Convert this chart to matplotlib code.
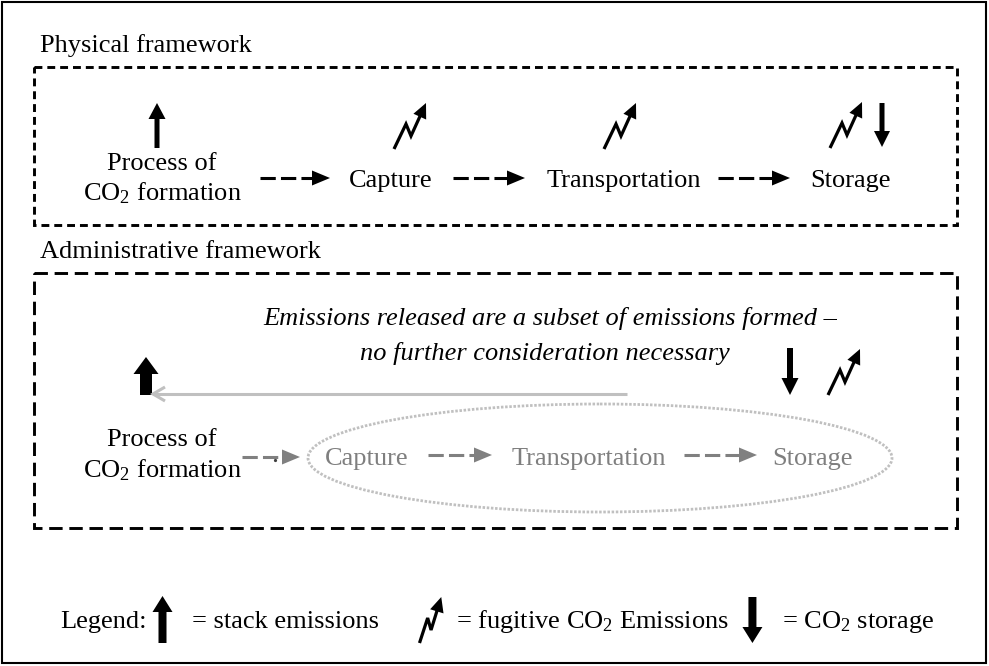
import matplotlib
matplotlib.use('Agg')
import matplotlib.pyplot as plt
from matplotlib.patches import Polygon, Rectangle, Ellipse
import numpy as np

plt.rcParams['font.family'] = ['Liberation Serif', 'DejaVu Serif']
plt.rcParams['mathtext.fontset'] = 'custom'
plt.rcParams['mathtext.rm'] = 'Liberation Serif'
plt.rcParams['mathtext.it'] = 'Liberation Serif:italic'

# ---- content ----
section_titles = ['Physical framework', 'Administrative framework']
source_label = ['Process of', r'CO$_\mathrm{2}$ formation']
chain_steps = ['Capture', 'Transportation', 'Storage']
note_lines = ['Emissions released are a subset of emissions formed \u2013',
              'no further consideration necessary']
legend_items = ['Legend:', '= stack emissions',
                r'= fugitive CO$_\mathrm{2}$ Emissions', r'= CO$_\mathrm{2}$ storage']

W, H = 989, 666
fig = plt.figure(figsize=(W / 100, H / 100), dpi=100)
ax = fig.add_axes([0, 0, 1, 1])
ax.set_xlim(0, W)
ax.set_ylim(H, 0)
ax.axis('off')
FS = 19
GRAY_TXT = '#7f7f7f'
LIGHT = '#c0c0c0'


def block_arrow(x, y_tail, y_tip, shaft, head, hlen, color='black'):
    d = 1 if y_tip > y_tail else -1
    yb = y_tip - d * hlen
    pts = [(x - shaft / 2, y_tail), (x - shaft / 2, yb), (x - head / 2, yb), (x, y_tip),
           (x + head / 2, yb), (x + shaft / 2, yb), (x + shaft / 2, y_tail)]
    ax.add_patch(Polygon(pts, closed=True, fc=color, ec='none'))


def dashed_arrow(x0, x1, y, color='black', lw=2.2, dash=(5, 1.7), hlen=18, hw=15):
    ax.plot([x0, x1 - hlen + 1], [y, y], color=color, lw=lw, ls=(0, dash),
            dash_capstyle='butt', solid_capstyle='butt')
    ax.add_patch(Polygon([(x1 - hlen, y - hw / 2), (x1, y), (x1 - hlen, y + hw / 2)],
                         closed=True, fc=color, ec='none'))


def zigzag(x0, y0, sx=1.0, sy=1.0, color='black', lw=2.3, hlen=15, hw=14):
    p = np.array([(0, 0), (12, 25), (17, 13), (32, 46)], float)
    p[:, 0] *= sx
    p[:, 1] *= sy
    tip = p[-1]
    d = tip - p[-2]
    d /= np.hypot(*d)
    perp = np.array([-d[1], d[0]])
    base = tip - hlen * d
    line = np.vstack([p[:-1], base + 2 * d])
    ax.plot(x0 + line[:, 0], y0 - line[:, 1], color=color, lw=lw,
            solid_joinstyle='miter', solid_capstyle='butt')
    tri = np.array([tip, base + perp * hw / 2, base - perp * hw / 2])
    ax.add_patch(Polygon(np.column_stack([x0 + tri[:, 0], y0 - tri[:, 1]]),
                         closed=True, fc=color, ec='none'))


# ---- outer frame ----
ax.add_patch(Rectangle((2, 2), 984, 661, fill=False, ec='black', lw=1.5))

# ---- physical framework ----
ax.text(40, 52, section_titles[0], fontsize=FS, ha='left', va='baseline')
ax.add_patch(Rectangle((34, 67), 923, 158, fill=False, ec='black', lw=2.1,
                       ls=(0, (2.7, 1.7))))
ax.text(162, 170, source_label[0], fontsize=FS, ha='center', va='baseline')
ax.text(162, 200, source_label[1], fontsize=FS, ha='center', va='baseline')
block_arrow(157, 148, 103, 5, 17, 16)

step_x = [391, 624, 851]
for s, x in zip(chain_steps, step_x):
    ax.text(x, 187, s, fontsize=FS, ha='center', va='baseline')
for x0, x1 in [(260, 330), (453, 525), (718, 790)]:
    dashed_arrow(x0, x1, 178)
zigzag(394, 149)
zigzag(604, 149)
zigzag(830, 148)
block_arrow(882, 103, 147, 5, 16, 16)

# ---- administrative framework ----
ax.text(40, 258, section_titles[1], fontsize=FS, ha='left', va='baseline')
ax.add_patch(Rectangle((34, 273), 923, 255, fill=False, ec='black', lw=2.1,
                       ls=(0, (4.6, 2.3))))
ax.text(837, 325, note_lines[0], fontsize=FS, ha='right', va='baseline', style='italic')
ax.text(730, 360, note_lines[1], fontsize=FS, ha='right', va='baseline', style='italic')

block_arrow(146, 395, 357, 12, 25, 17)
ax.plot([627, 153], [394, 394], color=LIGHT, lw=2.2, solid_capstyle='butt')
ax.plot([165, 153, 165], [387, 394, 401], color=LIGHT, lw=2.2,
        solid_joinstyle='miter', solid_capstyle='butt')
block_arrow(790, 348, 395, 6, 17, 17)
zigzag(828, 395)

ax.text(162, 446, source_label[0], fontsize=FS, ha='center', va='baseline')
ax.text(162, 477, source_label[1], fontsize=FS, ha='center', va='baseline')
dashed_arrow(242, 300, 457, color='#808080')
ax.plot([275], [460], 'o', color='#404040', ms=1.3)

ax.add_patch(Ellipse((600, 458), 584, 108, fill=False, ec=LIGHT, lw=2.0,
                     ls=(0, (0.9, 0.6))))
gstep_x = [367, 589, 813]
for s, x in zip(chain_steps, gstep_x):
    ax.text(x, 465, s, fontsize=FS, ha='center', va='baseline', color=GRAY_TXT)
dashed_arrow(428, 492, 455, color='#808080')
dashed_arrow(684, 757, 455, color='#808080')

# ---- legend ----
fig.canvas.draw()
r = fig.canvas.get_renderer()
LY = 628
x = 60
t = ax.text(x, LY, legend_items[0], fontsize=FS, ha='left', va='baseline')
x += t.get_window_extent(r).width + 6
block_arrow(x + 10, 643, 596, 8, 20, 16)
x += 20 + 20
t = ax.text(x, LY, legend_items[1], fontsize=FS, ha='left', va='baseline')
x += t.get_window_extent(r).width + 40
zigzag(x, 643, sx=0.68, sy=1.0)
x += 22 + 14
t = ax.text(x, LY, legend_items[2], fontsize=FS, ha='left', va='baseline')
x += t.get_window_extent(r).width + 14
block_arrow(x + 10, 597, 643, 8, 20, 16)
x += 20 + 20
ax.text(x, LY, legend_items[3], fontsize=FS, ha='left', va='baseline')

fig.savefig('out.png', dpi=100)
